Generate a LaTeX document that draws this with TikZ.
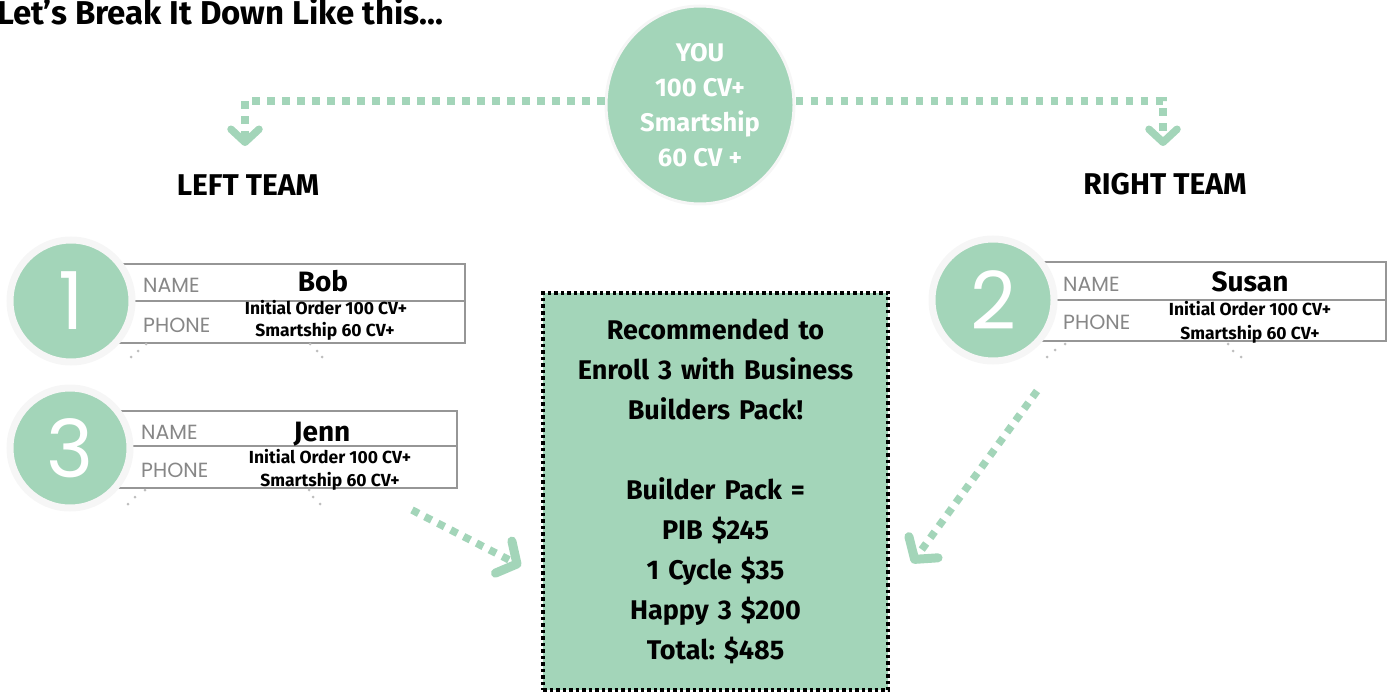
\documentclass[tikz,border=0pt]{standalone}
\usepackage{fontspec}
\setmainfont{Fira Sans}
\newfontfamily\geo{Poppins}
\usetikzlibrary{shapes.geometric,arrows.meta,calc}
\definecolor{mint}{RGB}{163,213,185}
\definecolor{cardgray}{RGB}{150,150,150}
\definecolor{labelgray}{RGB}{135,135,135}
\definecolor{halo}{RGB}{246,246,246}
\definecolor{dotgray}{RGB}{190,190,190}
\begin{document}
\begin{tikzpicture}[x=1pt,y=-1pt,
  dotline/.style={mint, line width=8pt, dash pattern=on 7.5pt off 7.5pt},
  diagline/.style={mint, line width=7.5pt, dash pattern=on 7.5pt off 7pt},
  chev/.style={-{Straight Barb[length=13pt,width=28pt,line width'=7.5pt,round]}},
  bigchev/.style={-{Straight Barb[length=15pt,width=36pt,line width'=9pt,round]}},
  numcirc/.style={circle, fill=mint, draw=halo, line width=7pt, minimum size=122pt, inner sep=0pt,
    text=white, font=\geo\fontsize{80}{80}\selectfont},
  card/.style={draw=cardgray, line width=1.5pt, fill=white, inner sep=0pt},
  cardline/.style={draw=cardgray, line width=1.5pt},
  flabel/.style={anchor=base west, inner sep=0pt, text=labelgray, font=\geo\fontsize{20.5}{20.5}\selectfont},
  pname/.style={anchor=base, inner sep=0pt, font=\bfseries\fontsize{28}{28}\selectfont},
  porder/.style={anchor=base, inner sep=0pt, font=\bfseries\fontsize{17.5}{17.5}\selectfont},
  team/.style={anchor=base, inner sep=0pt, font=\bfseries\fontsize{30}{30}\selectfont},
  sdot/.style={fill=dotgray}
]
\useasboundingbox (0,0) rectangle (1388,692);

% title
\node[anchor=base west, inner sep=0pt, font=\bfseries\fontsize{33}{33}\selectfont] (title) at (-3,25) {Let’s Break It Down Like this...};

% YOU
\node[ellipse, fill=mint, draw=halo, line width=3pt, minimum width=188pt, minimum height=198pt, inner sep=0pt,
  align=center, text=white, font=\bfseries\fontsize{25.5}{35}\selectfont] (you) at (700,105)
  {YOU\\100 CV+\\Smartship\\60 CV +};

\coordinate (ltip) at (245,146);
\coordinate (rtip) at (1163,146);
\draw[dotline, chev] ([yshift=4pt]you.west) -| (ltip);
\draw[dotline, chev] ([yshift=4pt]you.east) -| (rtip);

\node[team] (lteam) at (248,196) {LEFT TEAM};
\node[team] (rteam) at (1165,195) {RIGHT TEAM};

% card 1
\node[card, minimum width=347pt, minimum height=79pt] (b1) at (291.5,303.5) {};
\draw[cardline] ([yshift=2.5pt]b1.west) -- ([yshift=2.5pt]b1.east);
\node[numcirc] (c1) at (71,301) {1};
\node[flabel] (n1) at (143,293) {NAME};
\node[flabel] (p1) at (143,332) {PHONE};
\node[pname] (bob) at (323,291) {Bob};
\node[porder] (o1a) at (326,314) {Initial Order 100 CV+};
\node[porder] (o1b) at (325,336) {Smartship 60 CV+};
\fill[sdot] (146,344) circle (1.5) (138,351) circle (1.5) (131,357) circle (1.5)
            (310,344) circle (1.5) (317,351) circle (1.5) (322,357) circle (1.5);

% card 3
\node[card, minimum width=339pt, minimum height=77pt] (b3) at (287.5,449.5) {};
\draw[cardline] ([yshift=3.5pt]b3.west) -- ([yshift=3.5pt]b3.east);
\node[numcirc, minimum size=120pt] (c3) at (70,448) {3};
\node[flabel] (n3) at (141,439) {NAME};
\node[flabel] (p3) at (141,477) {PHONE};
\node[pname] (jenn) at (322,441) {Jenn};
\node[porder] (o3a) at (330,463) {Initial Order 100 CV+};
\node[porder] (o3b) at (330,486) {Smartship 60 CV+};
\fill[sdot] (145,490) circle (1.5) (135,497) circle (1.5) (128,504) circle (1.5)
            (309,490) circle (1.5) (313,497) circle (1.5) (320,504) circle (1.5);

% card 2
\node[card, minimum width=346pt, minimum height=79pt] (b2) at (1213,301.5) {};
\draw[cardline] ([yshift=1.5pt]b2.west) -- ([yshift=1.5pt]b2.east);
\node[numcirc] (c2) at (993,300) {2};
\node[flabel] (n2) at (1063,291) {NAME};
\node[flabel] (p2) at (1063,330) {PHONE};
\node[pname] (susan) at (1250,291) {Susan};
\node[porder] (o2a) at (1250,316) {Initial Order 100 CV+};
\node[porder] (o2b) at (1250,339) {Smartship 60 CV+};
\fill[sdot] (1065,344) circle (1.5) (1055,350) circle (1.5) (1047,357) circle (1.5)
            (1228,344) circle (1.5) (1233,351) circle (1.5) (1241,357) circle (1.5);

% recommendation box
\node[fill=mint, draw=black, line width=3.5pt, dash pattern=on 3.5pt off 3pt,
  minimum width=345pt, minimum height=397pt, inner sep=0pt, text width=345pt, align=center,
  font=\bfseries\fontsize{27}{40}\selectfont\frenchspacing] (rec) at (715.5,491.5)
  {Recommended to\\Enroll 3 with Business\\Builders Pack!\\[40pt]Builder Pack =\\PIB \$245\\1 Cycle \$35\\Happy 3 \$200\\Total: \$485};

% diagonal arrows
\coordinate (a3s) at (412,510);
\coordinate (a3e) at (521,566);
\draw[diagline, bigchev] (a3s) -- (a3e);
\coordinate (a2s) at (1037,391);
\coordinate (a2e) at (912,563);
\draw[diagline, bigchev] (a2s) -- (a2e);
\end{tikzpicture}
\end{document}
